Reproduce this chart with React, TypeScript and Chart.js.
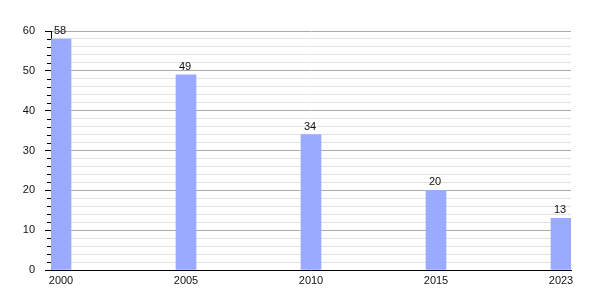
import React, { useEffect, useRef } from "react";
import { Chart, registerables } from "chart.js";

Chart.register(...registerables);

const years = ["2000", "2005", "2010", "2015", "2023"];
const values = [58, 49, 34, 20, 13];
const yTicks = [0, 10, 20, 30, 40, 50, 60];

const FONT = "'Liberation Sans', Arial, sans-serif";

export default function App() {
  const ref = useRef<HTMLCanvasElement | null>(null);

  useEffect(() => {
    if (!ref.current) return;
    const valueLabels = {
      id: "valueLabels",
      afterDatasetsDraw(chart: any) {
        const ctx = chart.ctx;
        const meta = chart.getDatasetMeta(0);
        ctx.save();
        ctx.font = `11px ${FONT}`;
        ctx.fillStyle = "#111";
        ctx.textAlign = "center";
        ctx.textBaseline = "alphabetic";
        meta.data.forEach((el: any, i: number) => {
          ctx.fillText(String(values[i]), el.x - 1, el.y - 5);
        });
        ctx.restore();
      },
    };
    const minorTicks = {
      id: "minorTicks",
      afterDraw(chart: any) {
        const ctx = chart.ctx;
        const y = chart.scales.y;
        const left = chart.chartArea.left;
        ctx.save();
        ctx.strokeStyle = "#000";
        ctx.lineWidth = 1;
        y.ticks.forEach((t: any) => {
          if (t.value % 10 !== 0) {
            const py = Math.round(y.getPixelForValue(t.value)) + 0.5;
            ctx.beginPath();
            ctx.moveTo(left - 4, py);
            ctx.lineTo(left, py);
            ctx.stroke();
          }
        });
        ctx.restore();
      },
    };
    const chart = new Chart(ref.current, {
      type: "bar",
      data: {
        datasets: [
          {
            data: values.map((v, i) => ({ x: i, y: v })),
            backgroundColor: "#99aaff",
            barThickness: 20,
          },
        ],
      },
      options: {
        animation: false,
        responsive: false,
        maintainAspectRatio: false,
        layout: { padding: { left: 0, right: 29, top: 31, bottom: 0 } },
        plugins: { legend: { display: false }, tooltip: { enabled: false } },
        scales: {
          x: {
            type: "linear",
            offset: false,
            min: -0.08,
            max: 4.08,
            afterBuildTicks: (s: any) => {
              s.ticks = years.map((_, i) => ({ value: i }));
            },
            afterFit: (s: any) => {
              s.height = 30;
            },
            grid: { display: true, offset: false, drawOnChartArea: false, drawTicks: false },
            border: { display: true, color: "#000", width: 1 },
            ticks: {
              padding: 4,
              autoSkip: false,
              maxRotation: 0,
              color: "#111",
              font: { family: FONT, size: 11 },
              callback: (v: any) => years[v] ?? "",
            },
          },
          y: {
            min: 0,
            max: 60,
            afterBuildTicks: (s: any) => {
              const t = [];
              for (let v = 0; v <= 60; v += 2) t.push({ value: v });
              s.ticks = t;
            },
            afterFit: (s: any) => {
              s.width = 51;
            },
            border: { display: true, color: "#000", width: 1 },
            grid: {
              color: (c: any) =>
                c.tick && c.tick.value % 10 === 0 ? "#aaaaaa" : "#e2e2e2",
              tickColor: (c: any) =>
                c.tick && c.tick.value % 10 === 0 ? "#000" : "rgba(0,0,0,0)",
              tickLength: 6,
            },
            ticks: {
              padding: 10,
              autoSkip: false,
              color: "#111",
              font: { family: FONT, size: 11 },
              callback: (v: any) => (yTicks.includes(v) ? String(v) : ""),
            },
          },
        },
      },
      plugins: [valueLabels, minorTicks],
    });
    return () => chart.destroy();
  }, []);

  return (
    <div style={{ position: "fixed", left: 0, top: 0, width: 600, height: 300, background: "#fff" }}>
      <canvas ref={ref} width={600} height={300} />
    </div>
  );
}
